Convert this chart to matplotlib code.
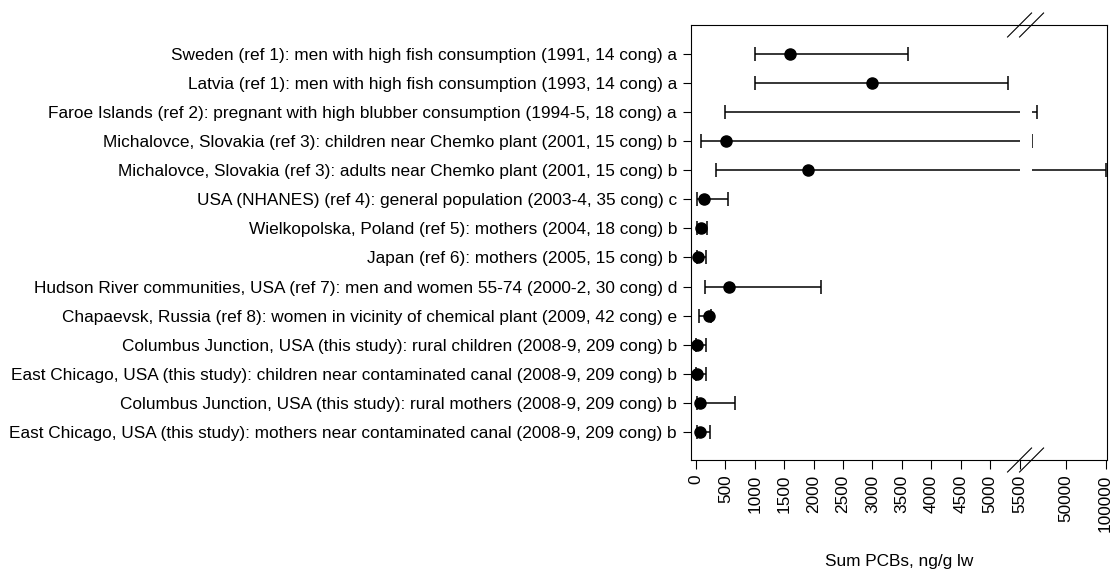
import numpy as np
import matplotlib
matplotlib.use("Agg")
import matplotlib.pyplot as plt

plt.rcParams['font.family'] = ['Liberation Sans', 'DejaVu Sans']

# rows, top to bottom
labels = [
    "Sweden (ref 1): men with high fish consumption (1991, 14 cong) a",
    "Latvia (ref 1): men with high fish consumption (1993, 14 cong) a",
    "Faroe Islands (ref 2): pregnant with high blubber consumption (1994-5, 18 cong) a",
    "Michalovce, Slovakia (ref 3): children near Chemko plant (2001, 15 cong) b",
    "Michalovce, Slovakia (ref 3): adults near Chemko plant (2001, 15 cong) b",
    "USA (NHANES) (ref 4): general population (2003-4, 35 cong) c",
    "Wielkopolska, Poland (ref 5): mothers (2004, 18 cong) b",
    "Japan (ref 6): mothers (2005, 15 cong) b",
    "Hudson River communities, USA (ref 7): men and women 55-74 (2000-2, 30 cong) d",
    "Chapaevsk, Russia (ref 8): women in vicinity of chemical plant (2009, 42 cong) e",
    "Columbus Junction, USA (this study): rural children (2008-9, 209 cong) b",
    "East Chicago, USA (this study): children near contaminated canal (2008-9, 209 cong) b",
    "Columbus Junction, USA (this study): rural mothers (2008-9, 209 cong) b",
    "East Chicago, USA (this study): mothers near contaminated canal (2008-9, 209 cong) b",
]
median = [1600, 3000, np.nan, 510, 1900, 136, 85, 40, 556, 215, 12, 17, 68, 73]
low = [1000, 1000, 500, 80, 340, 20, 10, 15, 147, 45, 5, 5, 10, 10]
high = [3600, 5300, 14000, 7700, 100000, 540, 181, 170, 2125, 250, 170, 165, 663, 243]

left_ticks = list(range(0, 5501, 500))
right_ticks = [50000, 100000]

# broken axis: 0..5500 linear, gap 5500..7500, then compressed
LO, HI = 5500, 7500
GAPW = 204.0
K = 0.0136


def fwd(x):
    x = np.asarray(x, dtype=float)
    return np.where(x <= LO, x,
                    np.where(x <= HI, LO + (x - LO) * GAPW / (HI - LO),
                             LO + GAPW + (x - HI) * K))


def inv(u):
    u = np.asarray(u, dtype=float)
    return np.where(u <= LO, u,
                    np.where(u <= LO + GAPW, LO + (u - LO) * (HI - LO) / GAPW,
                             HI + (u - LO - GAPW) / K))


fig = plt.figure(figsize=(11.1, 5.71), dpi=100)
ax = fig.add_axes([691 / 1110, 1 - 460 / 571, 416 / 1110, 435 / 571])
ax.set_xscale('function', functions=(fwd, inv))

n = len(labels)
y = np.arange(n, 0, -1)
med = np.array(median)
lo = np.array(low)
hi = np.array(high)
center = np.where(np.isnan(med), (lo + hi) / 2, med)

ax.errorbar(center, y, xerr=[center - lo, hi - center], fmt='none',
            ecolor='black', elinewidth=1.1, capsize=4.8, capthick=1.1)
ax.plot(med, y, 'o', color='black', ms=8, zorder=3)

# hide the gap
ax.axvspan(LO, HI, color='white', lw=0, zorder=3.5)

ax.set_xlim(-85, 101800)
ax.set_ylim(0.03, 15.0)
ax.set_xticks(left_ticks + right_ticks)
ax.set_xticklabels([str(t) for t in left_ticks + right_ticks], rotation=90, fontsize=12.4)
ax.set_yticks(y)
ax.set_yticklabels(labels, fontsize=12.4)
ax.tick_params(axis='y', length=5.5, width=0.8, pad=4.5)
ax.tick_params(axis='x', length=6.5, width=0.8, pad=4)
for s in ax.spines.values():
    s.set_linewidth(0.8)
    s.set_zorder(4)
ax.set_xlabel("Sum PCBs, ng/g lw", fontsize=12.4, labelpad=16)

# break marks
to_axes = ax.transData + ax.transAxes.inverted()
dx = 12 / 416
dy = 12 / 435
for xb in (LO, HI):
    xf = to_axes.transform((xb, 1))[0]
    for yf in (0, 1):
        ax.plot([xf - dx, xf + dx], [yf - dy, yf + dy], color='black', lw=0.8,
                transform=ax.transAxes, clip_on=False, zorder=5)

fig.savefig("out.png", dpi=100)
